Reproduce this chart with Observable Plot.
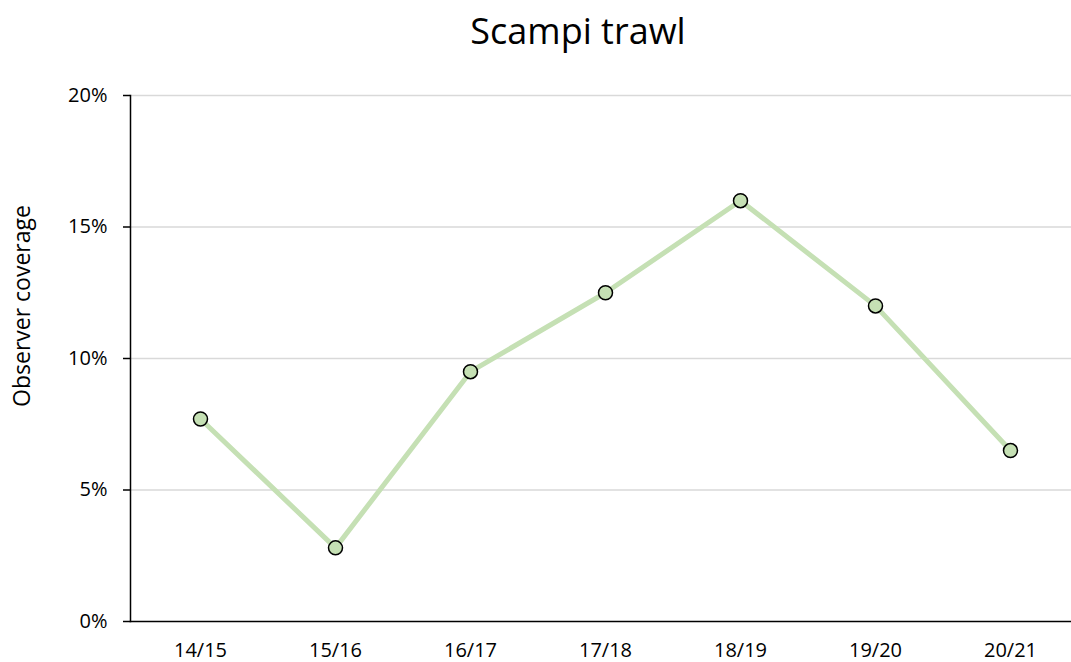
<!DOCTYPE html>
<html>
<head>
<meta charset="utf-8">
<script src="https://cdn.jsdelivr.net/npm/d3@7"></script>
<script src="https://cdn.jsdelivr.net/npm/@observablehq/plot@0.6"></script>
<style>
  html, body { margin: 0; padding: 0; background: #fff; }
  #wrap { position: relative; width: 1071px; height: 662px; overflow: hidden; }
  #title { position: absolute; left: 0; width: 1156px; top: 6px; text-align: center;
           font-family: "Open Sans", sans-serif; font-size: 36px; line-height: 50px; color: #000; }
  #chart { position: absolute; left: 0; top: 70px; }
</style>
</head>
<body>
<div id="wrap">
  <div id="title">Scampi trawl</div>
  <div id="chart"></div>
</div>
<script>
const seasons = ["14/15", "15/16", "16/17", "17/18", "18/19", "19/20", "20/21"];
const coverage = [0.077, 0.028, 0.095, 0.125, 0.160, 0.120, 0.065];
const yTicks = [0, 0.05, 0.10, 0.15, 0.20];
const yTitle = "Observer coverage";

const data = seasons.map((s, i) => ({season: s, value: coverage[i]}));

const chart = Plot.plot({
  width: 1071,
  height: 592,
  marginLeft: 130,
  marginRight: 0,
  marginTop: 25,
  marginBottom: 41,
  style: {fontFamily: "'Open Sans', sans-serif", fontSize: "20px", color: "#000", background: "#fff"},
  x: {type: "point", domain: seasons, range: [130, 1080], padding: 0.5, label: null},
  y: {domain: [0, 0.20], label: null},
  marks: [
    Plot.ruleY(yTicks.filter(d => d > 0), {stroke: "#d9d9d9", strokeWidth: 1.5, strokeOpacity: 1}),
    Plot.axisY({ticks: yTicks, tickFormat: d => Math.round(d * 100) + "%", tickSize: 7, tickPadding: 16, strokeWidth: 1.5, label: null, fontSize: 20}),
    Plot.frame({anchor: "left", stroke: "#000", strokeWidth: 1.5}),
    Plot.frame({anchor: "bottom", stroke: "#000", strokeWidth: 1.5}),
    Plot.axisX({tickSize: 0, tickPadding: 21, label: null, fontSize: 20}),
    Plot.line(data, {x: "season", y: "value", stroke: "#c5e0b4", strokeWidth: 5}),
    Plot.dot(data, {x: "season", y: "value", r: 7, fill: "#c5e0b4", stroke: "#000", strokeWidth: 1.5})
  ]
});
document.getElementById("chart").appendChild(chart);

// y-axis title
d3.select(chart).append("text")
  .attr("transform", "translate(30,236) rotate(-90)")
  .attr("text-anchor", "middle")
  .attr("font-size", 23)
  .attr("fill", "#000")
  .text(yTitle);
</script>
</body>
</html>
